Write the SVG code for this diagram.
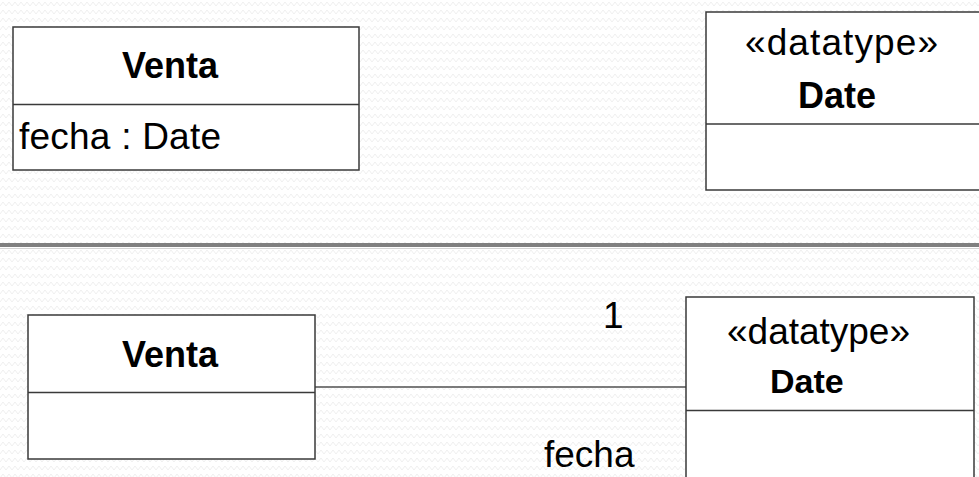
<svg xmlns="http://www.w3.org/2000/svg" width="979" height="477" viewBox="0 0 979 477">
<style>
.box{fill:#ffffff;stroke:#3a3a3a;stroke-width:1.5}
.div{stroke:#3a3a3a;stroke-width:1.5}
.t{font-family:"Liberation Sans",Arial,sans-serif;font-size:37px;fill:#000}
.b{font-weight:bold;font-size:36px}
.conn{stroke:#505050;stroke-width:1.5;fill:none}
</style>
<defs>
<pattern id="zz" width="12" height="8" patternUnits="userSpaceOnUse">
<polyline points="0,6 3,2 6,6 9,2 12,6" fill="none" stroke="#efefef" stroke-width="1"/>
</pattern>
</defs>
<rect width="979" height="477" fill="#ffffff"/>
<rect width="979" height="477" fill="url(#zz)"/>
<rect x="0" y="243" width="979" height="4" fill="#808080"/>
<line x1="0" y1="248.5" x2="979" y2="248.5" stroke="#d4d4d4" stroke-width="1"/>
<g id="venta-attr">
<rect class="box" x="13" y="27" width="346" height="143"/>
<line class="div" x1="13" y1="104.5" x2="359" y2="104.5"/>
<text class="t b" x="122" y="78">Venta</text>
<text class="t" x="19" y="149" textLength="202" lengthAdjust="spacing">fecha : Date</text>
</g>
<g id="date-top">
<rect class="box" x="706" y="12" width="290" height="178"/>
<line class="div" x1="706" y1="124" x2="979" y2="124"/>
<text class="t" x="745" y="55" textLength="193" lengthAdjust="spacing">«datatype»</text>
<text class="t b" x="798" y="108">Date</text>
</g>
<g id="connectors">
<line class="conn" x1="315" y1="387" x2="686" y2="387"/>
<text class="t" x="603" y="328">1</text>
<text class="t" x="544" y="467">fecha</text>
</g>
<g id="venta-assoc">
<rect class="box" x="28" y="315" width="287" height="144"/>
<line class="div" x1="28" y1="392.5" x2="315" y2="392.5"/>
<text class="t b" x="122" y="367">Venta</text>
</g>
<g id="date-bottom">
<rect class="box" x="686" y="297" width="288" height="200"/>
<line class="div" x1="686" y1="410.5" x2="974" y2="410.5"/>
<text class="t" x="727" y="344" textLength="183" lengthAdjust="spacing">«datatype»</text>
<text class="t b" x="770" y="393" style="font-size:34px">Date</text>
</g>
</svg>
